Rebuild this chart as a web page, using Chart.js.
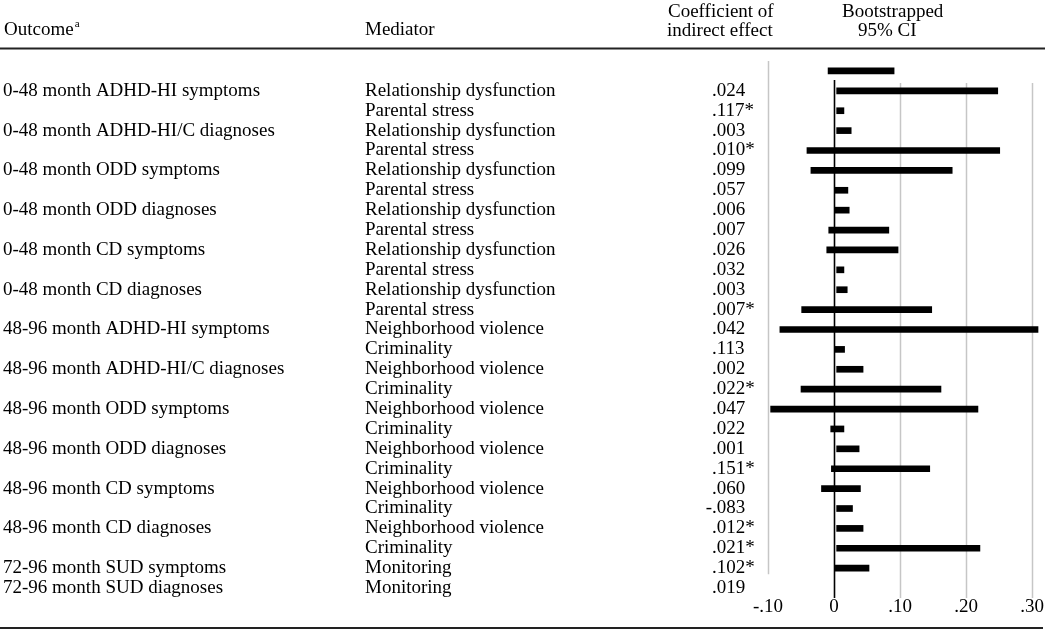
<!DOCTYPE html>
<html>
<head>
<meta charset="utf-8">
<script src="https://cdn.jsdelivr.net/npm/chart.js@4.4.1/dist/chart.umd.min.js"></script>
<style>
  html, body { margin: 0; padding: 0; background: #fff; }
  canvas { display: block; }
</style>
</head>
<body>
<canvas id="c" width="1050" height="632"></canvas>
<script>
// ---- data ----
const outcomes = [
  '0-48 month ADHD-HI symptoms', '',
  '0-48 month ADHD-HI/C diagnoses', '',
  '0-48 month ODD symptoms', '',
  '0-48 month ODD diagnoses', '',
  '0-48 month CD symptoms', '',
  '0-48 month CD diagnoses', '',
  '48-96 month ADHD-HI symptoms', '',
  '48-96 month ADHD-HI/C diagnoses', '',
  '48-96 month ODD symptoms', '',
  '48-96 month ODD diagnoses', '',
  '48-96 month CD symptoms', '',
  '48-96 month CD diagnoses', '',
  '72-96 month SUD symptoms',
  '72-96 month SUD diagnoses'
];
const mediators = [
  'Relationship dysfunction', 'Parental stress',
  'Relationship dysfunction', 'Parental stress',
  'Relationship dysfunction', 'Parental stress',
  'Relationship dysfunction', 'Parental stress',
  'Relationship dysfunction', 'Parental stress',
  'Relationship dysfunction', 'Parental stress',
  'Neighborhood violence', 'Criminality',
  'Neighborhood violence', 'Criminality',
  'Neighborhood violence', 'Criminality',
  'Neighborhood violence', 'Criminality',
  'Neighborhood violence', 'Criminality',
  'Neighborhood violence', 'Criminality',
  'Monitoring', 'Monitoring'
];
const coefficients = [
  '.024', '.117*', '.003', '.010*', '.099', '.057', '.006', '.007', '.026', '.032',
  '.003', '.007*', '.042', '.113', '.002', '.022*', '.047', '.022', '.001', '.151*',
  '.060', '-.083', '.012*', '.021*', '.102*', '.019'
];
const ciLow = [
  -0.009, 0.004, 0.004, 0.004, -0.041, -0.035, 0.002, 0.002, -0.008, -0.011,
  0.004, 0.004, -0.049, -0.082, 0.001, 0.004, -0.050, -0.096, -0.005, 0.004,
  -0.004, -0.019, 0.004, 0.004, 0.004, 0.002
];
const ciHigh = [
  0.091, 0.248, 0.015, 0.026, 0.251, 0.179, 0.021, 0.023, 0.083, 0.097,
  0.015, 0.020, 0.148, 0.309, 0.016, 0.044, 0.162, 0.218, 0.015, 0.038,
  0.145, 0.040, 0.028, 0.044, 0.221, 0.053
];
const xTickValues = [-0.1, 0, 0.1, 0.2, 0.3];
const xTickLabels = ['-.10', '0', '.10', '.20', '.30'];
const rowSlots = Array.from({ length: outcomes.length + 1 }, (_, i) => String(i));

// ---- drawing ----
const FONT = '"Liberation Serif", "Times New Roman", serif';

// vertical reference lines, drawn through the x and y scales
const gridPlugin = {
  id: 'refLines',
  beforeDatasetsDraw(chart) {
    const ctx = chart.ctx;
    const x = chart.scales.x, y = chart.scales.y;
    ctx.save();
    xTickValues.forEach((v, k) => {
      const px = Math.round(x.getPixelForValue(v)) + 0.5;
      let top, bot;
      if (k === 0) { top = y.getPixelForValue(-0.5); bot = y.getPixelForValue(25.3); }
      else if (v === 0) { top = y.getPixelForValue(0.45); bot = y.getPixelForValue(26.5); }
      else { top = y.getPixelForValue(0.6); bot = y.getPixelForValue(26.5); }
      ctx.strokeStyle = v === 0 ? '#000' : '#c6c6c6';
      ctx.lineWidth = v === 0 ? 1.6 : 1.5;
      ctx.beginPath();
      ctx.moveTo(px, top); ctx.lineTo(px, bot);
      ctx.stroke();
    });
    ctx.restore();
  }
};

const tablePlugin = {
  id: 'tableText',
  afterDraw(chart) {
    const ctx = chart.ctx;
    const y = chart.scales.y;
    ctx.save();
    ctx.fillStyle = '#000';
    ctx.textAlign = 'left';
    ctx.textBaseline = 'middle';
    ctx.font = '19px ' + FONT;
    // header
    ctx.fillText('Outcome', 4, 30);
    const ow = ctx.measureText('Outcome').width;
    ctx.fillText('Mediator', 365, 30);
    ctx.fillText('Coefficient of', 668, 12);
    ctx.fillText('indirect effect', 667, 31);
    ctx.fillText('Bootstrapped', 842, 12);
    ctx.fillText('95% CI', 858, 31);
    ctx.font = '11px ' + FONT;
    ctx.fillText('a', 4 + ow + 1, 24);
    // rules
    ctx.strokeStyle = '#222';
    ctx.lineWidth = 2;
    ctx.beginPath();
    ctx.moveTo(0, 48.5); ctx.lineTo(1045, 48.5);
    ctx.moveTo(0, 628); ctx.lineTo(1043, 628);
    ctx.stroke();
    // rows
    ctx.font = '19px ' + FONT;
    for (let i = 0; i < outcomes.length; i++) {
      const py = y.getPixelForValue(i + 1);
      if (outcomes[i]) ctx.fillText(outcomes[i], 3, py);
      ctx.fillText(mediators[i], 365, py);
      const c = coefficients[i];
      let cx = 712;
      if (c.startsWith('-')) cx -= ctx.measureText('-').width;
      ctx.fillText(c, cx, py);
    }
    ctx.restore();
  }
};

new Chart(document.getElementById('c'), {
  type: 'bar',
  data: {
    labels: rowSlots,
    datasets: [{
      data: ciLow.map((lo, i) => [lo, ciHigh[i]]),
      backgroundColor: '#000',
      borderWidth: 0,
      borderSkipped: false,
      barThickness: 6
    }]
  },
  options: {
    indexAxis: 'y',
    responsive: false,
    animation: false,
    devicePixelRatio: 1,
    layout: { padding: { left: 768, right: 10, top: 61, bottom: 0 } },
    plugins: { legend: { display: false }, tooltip: { enabled: false } },
    scales: {
      x: {
        type: 'linear',
        min: -0.1,
        max: 0.312,
        afterBuildTicks: (s) => { s.ticks = xTickValues.map(v => ({ value: v })); },
        afterFit: (s) => { s.height = 34; },
        ticks: {
          autoSkip: false,
          maxRotation: 0,
          padding: 0,
          color: '#000',
          font: { family: FONT, size: 19, lineHeight: 1 },
          callback: (v) => {
            const k = xTickValues.findIndex(t => Math.abs(t - v) < 1e-9);
            return k >= 0 ? xTickLabels[k] : '';
          }
        },
        grid: { display: false, drawTicks: false },
        border: { display: false }
      },
      y: {
        type: 'category',
        display: false
      }
    }
  },
  plugins: [gridPlugin, tablePlugin]
});
</script>
</body>
</html>
